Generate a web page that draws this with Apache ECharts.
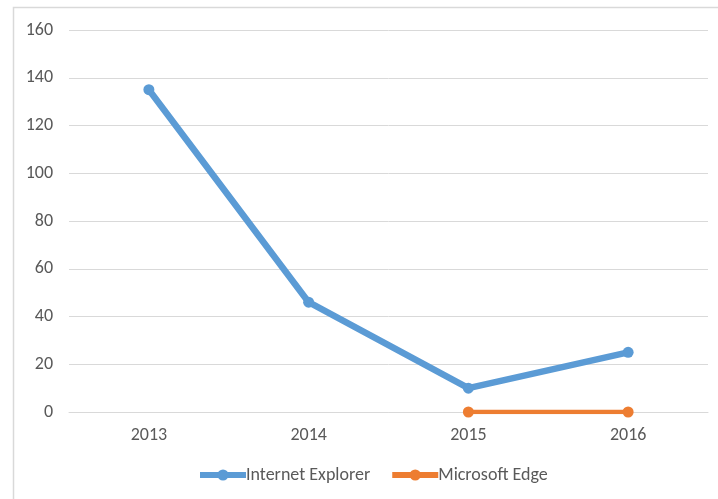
<!DOCTYPE html>
<html>
<head>
<meta charset="utf-8">
<script src="https://cdn.jsdelivr.net/npm/echarts@6/dist/echarts.min.js"></script>
<style>
  html, body { margin: 0; padding: 0; background: #fff; }
  #chart { width: 718px; height: 499px; }
</style>
</head>
<body>
<div id="chart"></div>
<script>
    // 数据
    var years = ['2013', '2014', '2015', '2016'];
    var ieValues = [135, 46, 10, 25];
    var edgeValues = [null, null, 0, 0];
    var yTicks = { min: 0, max: 160, interval: 20 };

    var textColor = '#595959';
    var fontFamily = 'Carlito, "Open Sans", "Liberation Sans", sans-serif';

    var myChart = echarts.init(document.getElementById('chart'));
    var option = {
        animation: false,
        textStyle: { fontFamily: fontFamily },
        graphic: [{
            type: 'rect',
            shape: { x: 13.5, y: 7.5, width: 720, height: 500 },
            style: { fill: 'none', stroke: '#d9d9d9', lineWidth: 1.5 },
            silent: true
        }],
        grid: { left: 69, right: 10, top: 30, bottom: 87 },
        legend: {
            top: 461,
            left: 192,
            itemWidth: 46,
            itemHeight: 14,
            itemGap: 19,
            textStyle: { color: textColor, fontSize: 18, fontFamily: fontFamily, padding: [0, 0, 0, -5] },
            data: [
                { name: 'Internet Explorer', lineStyle: { width: 6 } },
                { name: 'Microsoft Edge', lineStyle: { width: 6 } }
            ]
        },
        xAxis: {
            type: 'category',
            data: years,
            boundaryGap: true,
            axisLine: { show: true, lineStyle: { color: '#d9d9d9' } },
            axisTick: { show: false },
            axisLabel: { color: textColor, fontSize: 18, margin: 14 }
        },
        yAxis: {
            type: 'value',
            min: yTicks.min,
            max: yTicks.max,
            interval: yTicks.interval,
            axisLine: { show: false },
            axisTick: { show: false },
            axisLabel: { color: textColor, fontSize: 18, margin: 16 },
            splitLine: { lineStyle: { color: '#d9d9d9', width: 1 } }
        },
        series: [
            {
                name: 'Internet Explorer',
                type: 'line',
                data: ieValues,
                symbol: 'circle',
                symbolSize: 11,
                lineStyle: { color: '#5b9bd5', width: 6.5 },
                itemStyle: { color: '#5b9bd5' }
            },
            {
                name: 'Microsoft Edge',
                type: 'line',
                data: edgeValues,
                symbol: 'circle',
                symbolSize: 11,
                lineStyle: { color: '#ed7d31', width: 4.5 },
                itemStyle: { color: '#ed7d31' }
            }
        ]
    };
    myChart.setOption(option);
</script>
</body>
</html>
